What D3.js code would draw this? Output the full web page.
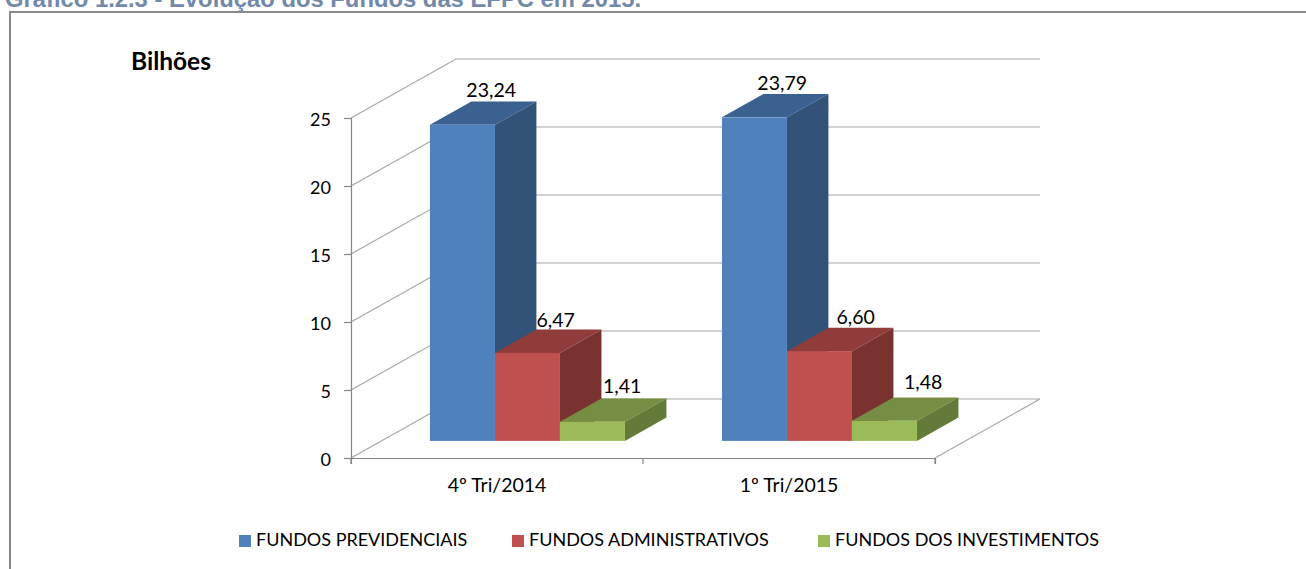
<!DOCTYPE html>
<html>
<head>
<meta charset="utf-8">
<script src="https://cdnjs.cloudflare.com/ajax/libs/d3/7.8.5/d3.min.js"></script>
<style>
html, body { margin: 0; padding: 0; background: #fff; overflow: hidden; }
text { font-family: Lato, "Open Sans", sans-serif; fill: #000; }
</style>
</head>
<body>
<div id="chart"></div>
<script>
const categories = ["4º Tri/2014", "1º Tri/2015"];
const seriesNames = ["FUNDOS PREVIDENCIAIS", "FUNDOS ADMINISTRATIVOS", "FUNDOS DOS INVESTIMENTOS"];
const previdenciais = [23.24, 23.79];
const administrativos = [6.47, 6.60];
const investimentos = [1.41, 1.48];
const yTicks = [0, 5, 10, 15, 20, 25];

const seriesValues = [previdenciais, administrativos, investimentos];
const frontColors = ["#4f81bd", "#c0504d", "#9bbb59"];
const topColors = ["#3b6190", "#903c3a", "#758e43"];
const sideColors = ["#325377", "#7a3230", "#647a39"];

// small label shifts, the original labels were not placed evenly
const labelNudgeX = [[1, 0.5, 2], [0, 8.5, 11]];
const labelNudgeY = [[0, 2, 0], [1, 1, -3.5]];

const width = 1306, height = 569;
const svg = d3.select("#chart").append("svg")
    .attr("width", width)
    .attr("height", height);

// title is cut off by the top edge in the reference
svg.append("text")
    .attr("x", 5)
    .attr("y", 7)
    .style("font-family", "'Liberation Sans', Arial, sans-serif")
    .style("font-weight", "bold")
    .style("font-size", "23.8px")
    .style("fill", "#7389aa")
    .text("Gráfico 1.2.3 - Evolução dos Fundos das EFPC em 2015.");

// frame, the right side runs off the picture
svg.append("path")
    .attr("d", `M10,${height + 2}V12H${width + 2}`)
    .attr("fill", "none")
    .attr("stroke", "#8a8a8a")
    .attr("stroke-width", 2);

const x = d3.scaleBand().domain(categories).range([351, 935]);
const y = d3.scaleLinear().domain([0, 25]).range([458, 118]);
const inner = d3.scaleBand().domain(seriesNames).range([-97.5, 97.5]);

// depth of the floor and position of the bars on it
const floorDx = 105, floorDy = -59;
const barFront = 0.29, barDepth = 0.395;
const gridColor = "#a6a6a6";

const grid = svg.append("g")
    .attr("fill", "none")
    .attr("stroke", gridColor)
    .attr("stroke-width", 1.2);

// back wall gridlines and the slanted lines on the side wall
yTicks.forEach(t => {
    grid.append("path")
        .attr("d", `M${x.range()[0]},${y(t)}l${floorDx},${floorDy}H${x.range()[1] + floorDx}`);
});

// floor edge on the right
grid.append("line")
    .attr("x1", x.range()[1]).attr("y1", y(0))
    .attr("x2", x.range()[1] + floorDx).attr("y2", y(0) + floorDy);

// axes
const yAxis = svg.append("g")
    .attr("transform", `translate(${x.range()[0]},0)`)
    .call(d3.axisLeft(y).tickValues(yTicks).tickSize(7).tickPadding(13));

const xAxis = svg.append("g")
    .attr("transform", `translate(0,${y(0)})`)
    .call(d3.axisBottom(x).tickSize(6).tickPadding(14));

// band axis puts ticks at centres, move them to the band edges
xAxis.selectAll(".tick line").remove();
[x.range()[0], x.range()[0] + x.bandwidth(), x.range()[1]].forEach(px => {
    xAxis.append("line")
        .attr("x1", px).attr("x2", px)
        .attr("y1", 0).attr("y2", 6);
});

[yAxis, xAxis].forEach(a => {
    a.selectAll("path, line").attr("stroke", "#868686").attr("stroke-width", 1.2);
    a.selectAll("text").style("font-family", "Lato, sans-serif").attr("fill", "#000");
});
yAxis.selectAll("text").style("font-size", "18px").attr("dy", "0.42em");
xAxis.selectAll("text").style("font-size", "19.5px");

// bars, from back to front order left to right
const dx0 = floorDx * barFront, dy0 = floorDy * barFront;
const dx1 = floorDx * barDepth, dy1 = floorDy * barDepth;

categories.forEach((cat, c) => {
    const cx = x(cat) + x.bandwidth() / 2;
    seriesNames.forEach((name, s) => {
        const v = seriesValues[s][c];
        const left = cx + inner(name) + dx0;
        const right = left + inner.bandwidth();
        const top = y(v) + dy0;
        const bottom = y(0) + dy0;
        const g = svg.append("g");

        // top face
        g.append("path")
            .attr("d", `M${left},${top}l${dx1},${dy1}H${right + dx1}L${right},${top}Z`)
            .attr("fill", topColors[s]);
        // side face
        g.append("path")
            .attr("d", `M${right},${top}l${dx1},${dy1}V${bottom + dy1}L${right},${bottom}Z`)
            .attr("fill", sideColors[s]);
        // front face
        g.append("rect")
            .attr("x", left)
            .attr("y", top)
            .attr("width", inner.bandwidth())
            .attr("height", bottom - top)
            .attr("fill", frontColors[s]);
        // value label
        g.append("text")
            .attr("x", (left + right) / 2 + dx1 / 2 + 7 + labelNudgeX[c][s])
            .attr("y", top + dy1 - 5 + labelNudgeY[c][s])
            .attr("text-anchor", "middle")
            .style("font-size", "19.5px")
            .text(v.toFixed(2).replace(".", ","));
    });
});

// axis title
svg.append("text")
    .attr("x", 131)
    .attr("y", 69.5)
    .style("font-size", "24.5px")
    .style("font-weight", "bold")
    .text("Bilhões");

// legend
const legendX = [239, 512, 818];
const legend = svg.append("g");
seriesNames.forEach((name, s) => {
    legend.append("rect")
        .attr("x", legendX[s])
        .attr("y", 535)
        .attr("width", 12)
        .attr("height", 12)
        .attr("fill", frontColors[s]);
    legend.append("text")
        .attr("x", legendX[s] + 17)
        .attr("y", 546)
        .style("font-size", "18px")
        .text(name);
});
</script>
</body>
</html>
